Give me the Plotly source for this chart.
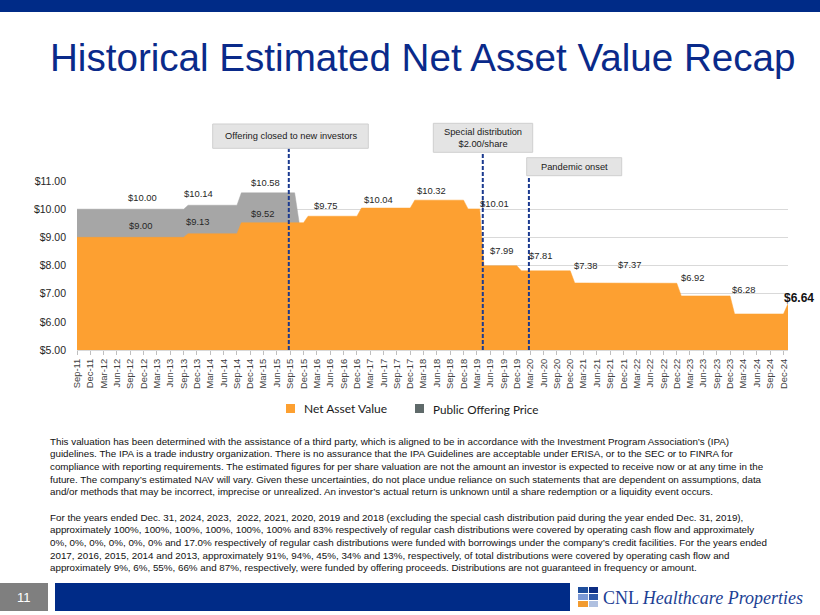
import plotly.graph_objects as go

# ---------------- DATA ----------------
nav_dates = ["2011-09-01", "2013-09-01", "2013-10-01", "2014-09-01", "2014-10-01",
             "2015-12-01", "2016-01-01", "2016-12-01", "2017-01-01", "2017-12-01",
             "2018-01-01", "2018-12-01", "2019-01-01", "2019-03-22", "2019-04-20",
             "2019-12-01", "2020-01-01", "2020-12-01", "2021-01-01", "2021-12-01",
             "2022-01-01", "2022-12-01", "2023-01-01", "2023-12-01", "2024-01-01",
             "2024-12-01", "2025-01-01"]
nav_values = [9.00, 9.00, 9.13, 9.13, 9.52,
              9.52, 9.75, 9.75, 10.04, 10.04,
              10.32, 10.32, 10.01, 10.01, 7.99,
              7.99, 7.81, 7.81, 7.38, 7.38,
              7.37, 7.37, 6.92, 6.92, 6.28,
              6.28, 6.64]

pop_dates = ["2011-09-01", "2013-09-01", "2013-10-01", "2014-09-01", "2014-10-01",
             "2015-10-01", "2015-11-01"]
pop_values = [10.00, 10.00, 10.14, 10.14, 10.58, 10.58, 9.52]

label_values = [10.00, 9.00, 10.14, 9.13, 10.58, 9.52, 9.75, 10.04, 10.32, 10.01,
                7.99, 7.81, 7.38, 7.37, 6.92, 6.28]
label_dates = ["2012-11-25", "2012-11-06", "2013-12-10", "2013-12-06", "2015-03-16",
               "2015-02-25", "2016-04-27", "2017-04-25", "2018-04-25", "2019-07-04",
               "2019-08-16", "2020-05-13", "2021-03-16", "2022-01-13", "2023-03-22",
               "2024-03-01"]
label_levels = [10.42, 9.41, 10.56, 9.58, 10.95, 9.83, 10.12, 10.35, 10.65, 10.19,
                8.55, 8.37, 8.01, 8.03, 7.59, 7.15]
latest_nav = 6.64

event_names = ["Offering closed to new investors", "Special distribution<br>$2.00/share", "Pandemic onset"]
event_dates = ["2015-08-22", "2019-04-12", "2020-02-22"]

y_ticks = [5, 6, 7, 8, 9, 10, 11]
y_tick_labels = ["$5.00", "$6.00", "$7.00", "$8.00", "$9.00", "$10.00", "$11.00"]

# ---------------- LAYOUT HELPERS ----------------
W, H = 820, 615
L, R, T, B = 77, 32, 181, 265
PW = W - L - R
PH = H - T - B


def px(x):
    return (x - L) / PW


def py(y):
    return (H - B - y) / PH


ORANGE = "#FDA031"
GRAY = "#A6A6A6"
NAVY = "#0A2A8A"
FONT = "Arial, Liberation Sans, sans-serif"

fig = go.Figure()
fig.add_trace(go.Scatter(x=pop_dates, y=pop_values, mode="lines", fill="tozeroy",
                         fillcolor=GRAY, line=dict(color=GRAY, width=0.5),
                         name="Public Offering Price", hoverinfo="skip"))
fig.add_trace(go.Scatter(x=nav_dates, y=nav_values, mode="lines", fill="tozeroy",
                         fillcolor=ORANGE, line=dict(color=ORANGE, width=0.5),
                         name="Net Asset Value", hoverinfo="skip"))

shapes = []
annotations = []

# top bar
shapes.append(dict(type="rect", xref="paper", yref="paper", x0=px(0), x1=px(W),
                   y0=py(12), y1=py(0), fillcolor="#002B87", line_width=0))
# title
annotations.append(dict(xref="paper", yref="paper", x=px(422), y=py(57),
                        text="Historical Estimated Net Asset Value Recap", showarrow=False,
                        xanchor="center", yanchor="middle",
                        font=dict(family=FONT, size=38.6, color=NAVY)))

# data labels
for v, d, lv in zip(label_values, label_dates, label_levels):
    annotations.append(dict(x=d, y=lv, xref="x", yref="y", text=f"${v:.2f}", showarrow=False,
                            xanchor="center", yanchor="middle",
                            font=dict(family=FONT, size=9.4, color="#262626")))
# latest value, bold, just right of the plot area
annotations.append(dict(x=1.0, y=latest_nav + 0.2, xref="paper", yref="y",
                        text=f"${latest_nav:.2f}", showarrow=False,
                        xanchor="left", yanchor="middle", xshift=-6,
                        font=dict(family=FONT, size=12, color="#111111", weight="bold")))

# event boxes and dashed lines
boxes = [(212.7, 368.3, 124, 148.3), (433.3, 532.7, 123.3, 152.3), (526.7, 621.7, 157.7, 175.7)]
line_tops = [148.3, 152.3, 175.7]
for name, d, (bx0, bx1, by0, by1), lt in zip(event_names, event_dates, boxes, line_tops):
    shapes.append(dict(type="line", xref="x", yref="paper", x0=d, x1=d, y0=0, y1=py(lt),
                       line=dict(color="#1B3A8F", width=2, dash="4px,2px"), layer="above"))
    shapes.append(dict(type="rect", xref="paper", yref="paper", x0=px(bx0), x1=px(bx1),
                       y0=py(by1), y1=py(by0), fillcolor="#E4E4E4",
                       line=dict(color="#CFCFCF", width=1), layer="above"))
    annotations.append(dict(xref="paper", yref="paper", x=px((bx0 + bx1) / 2),
                            y=py((by0 + by1) / 2), text=name, showarrow=False,
                            xanchor="center", yanchor="middle",
                            font=dict(family=FONT, size=9.3, color="#1A1A1A")))

# legend (manual)
legend_items = [("Net Asset Value", ORANGE, 286, 12.0), ("Public Offering Price", "#5F6A6A", 415, 11.7)]
for name, col, lx, fs in legend_items:
    shapes.append(dict(type="rect", xref="paper", yref="paper", x0=px(lx), x1=px(lx + 9),
                       y0=py(413), y1=py(404), fillcolor=col, line_width=0))
    annotations.append(dict(xref="paper", yref="paper", x=px(lx + 16), y=py(408.5), text=name,
                            showarrow=False, xanchor="left", yanchor="middle",
                            font=dict(family="Lato, Open Sans, sans-serif", size=fs,
                                      color="#1A1A1A")))

# disclosure text
para1 = [
    "This valuation has been determined with the assistance of a third party, which is aligned to be in accordance with the Investment Program Association’s (IPA)",
    "guidelines. The IPA is a trade industry organization. There is no assurance that the IPA Guidelines are acceptable under ERISA, or to the SEC or to FINRA for",
    "compliance with reporting requirements. The estimated figures for per share valuation are not the amount an investor is expected to receive now or at any time in the",
    "future. The company’s estimated NAV will vary. Given these uncertainties, do not place undue reliance on such statements that are dependent on assumptions, data",
    "and/or methods that may be incorrect, imprecise or unrealized. An investor’s actual return is unknown until a share redemption or a liquidity event occurs.",
]
para2 = [
    "For the years ended Dec. 31, 2024, 2023,  2022, 2021, 2020, 2019 and 2018 (excluding the special cash distribution paid during the year ended Dec. 31, 2019),",
    "approximately 100%, 100%, 100%, 100%, 100%, 100% and 83% respectively of regular cash distributions were covered by operating cash flow and approximately",
    "0%, 0%, 0%, 0%, 0%, 0% and 17.0% respectively of regular cash distributions were funded with borrowings under the company’s credit facilities. For the years ended",
    "2017, 2016, 2015, 2014 and 2013, approximately 91%, 94%, 45%, 34% and 13%, respectively, of total distributions were covered by operating cash flow and",
    "approximately 9%, 6%, 55%, 66% and 87%, respectively, were funded by offering proceeds. Distributions are not guaranteed in frequency or amount.",
]
for start, lines in ((441, para1), (517, para2)):
    for i, t in enumerate(lines):
        annotations.append(dict(xref="paper", yref="paper", x=px(48), y=py(start + i * 12.7),
                                text=t, showarrow=False, xanchor="left", yanchor="middle",
                                font=dict(family=FONT, size=9.8, color="#111111")))

# footer
shapes.append(dict(type="rect", xref="paper", yref="paper", x0=px(0), x1=px(48),
                   y0=py(611), y1=py(583), fillcolor="#7F7F7F", line_width=0))
annotations.append(dict(xref="paper", yref="paper", x=px(24), y=py(597), text="11",
                        showarrow=False, xanchor="center", yanchor="middle",
                        font=dict(family=FONT, size=13, color="white")))
shapes.append(dict(type="rect", xref="paper", yref="paper", x0=px(55), x1=px(570),
                   y0=py(611), y1=py(583), fillcolor="#002B87", line_width=0))
# logo icon
icon = [(578, 587, 588, 593, "#1F4E9C"), (589, 587, 598, 593, "#0C2D83"),
        (578, 594, 588, 600, "#7C9AD6"), (589, 594, 598, 600, "#2D57A8"),
        (578, 601, 588, 607, "#F29B2F"), (589, 601, 598, 607, "#AFC0E0")]
for x0, y0, x1, y1, c in icon:
    shapes.append(dict(type="rect", xref="paper", yref="paper", x0=px(x0), x1=px(x1),
                       y0=py(y1), y1=py(y0), fillcolor=c, line_width=0))
annotations.append(dict(xref="paper", yref="paper", x=px(601), y=py(598),
                        text="CNL <i>Healthcare Properties</i>", showarrow=False,
                        xanchor="left", yanchor="middle",
                        font=dict(family="Liberation Serif, Times New Roman, serif", size=18,
                                  color="#1C3F94")))

fig.update_layout(
    width=W, height=H, margin=dict(l=L, r=R, t=T, b=B, pad=0),
    paper_bgcolor="white", plot_bgcolor="white", showlegend=False,
    shapes=shapes, annotations=annotations,
    xaxis=dict(type="date", range=["2011-09-01", "2025-01-01"], dtick="M3",
               tick0="2011-09-01", tickformat="%b-%y", tickangle=-90,
               ticks="outside", ticklen=4, tickcolor="#BFBFBF",
               showgrid=False, showline=True, linecolor="#D9D9D9", zeroline=False,
               tickfont=dict(family=FONT, size=9.4, color="#404040")),
    yaxis=dict(range=[5, 11], tickmode="array", tickvals=y_ticks, ticktext=y_tick_labels,
               showgrid=True, gridcolor="#D9D9D9", zeroline=False, showline=False,
               ticks="", ticklabelstandoff=10,
               tickfont=dict(family=FONT, size=10.5, color="#262626")),
)

fig.write_html("out.html")
